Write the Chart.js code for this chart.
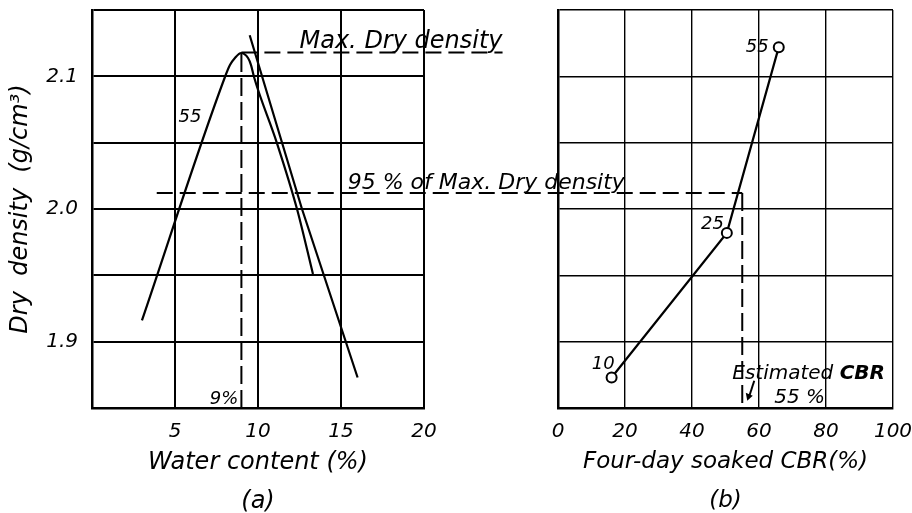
<!DOCTYPE html>
<html>
<head>
<meta charset="utf-8">
<script src="https://cdn.jsdelivr.net/npm/chart.js@4/dist/chart.umd.min.js"></script>
<style>
  html, body { margin: 0; padding: 0; background: #fff; }
  #wrap { position: relative; width: 912px; height: 513px; }
  #wrap canvas { position: absolute; left: 0; top: 0; }
</style>
</head>
<body>
<div id="wrap">
  <canvas id="chartA" width="912" height="513"></canvas>
  <canvas id="chartB" width="912" height="513"></canvas>
</div>
<script>
// (a) compaction curve, 55 blows : water content (%) vs dry density
const waterA = [3.01, 8.01, 8.31, 8.61, 8.98, 9.40, 9.58, 9.76, 11.14, 12.35, 13.31];
const densA  = [1.916, 2.0995, 2.1085, 2.1138, 2.1176, 2.1138, 2.1085, 2.0995, 2.0497, 2.0, 1.951];
// second line on the wet side
const waterA2 = [9.5, 12.65, 16.0];
const densA2  = [2.131, 2.0, 1.873];

// (b) four-day soaked CBR vs dry density, label = number of blows
const cbrB   = [16, 50.4, 65.9];
const densB  = [1.873, 1.982, 2.122];
const blowsB = ['10', '25', '55'];

// axes
const xTicksA = [5, 10, 15, 20];
const xTicksB = [0, 20, 40, 60, 80, 100];
const yGrid   = [1.85, 1.9, 1.95, 2.0, 2.05, 2.1, 2.15];
const yLabels = ['1.9', '2.0', '2.1'];

// reference values
const maxDry = 2.118;    // max dry density
const optWater = 9;      // optimum water content %
const dry95 = 2.012;     // 95 % of max dry density
const estCBR = 55;       // estimated CBR %

const FONT = '"DejaVu Sans", sans-serif';

function toXY(xs, ys) {
    return xs.map((x, i) => ({x: x, y: ys[i]}));
}

function yTickLabel(v) {
    const hit = yLabels.find(l => Math.abs(parseFloat(l) - v) < 1e-6);
    return hit || '';
}

function txt(ctx, s, x, y, align, size, base, weight) {
    ctx.save();
    ctx.font = 'italic ' + (weight || 'normal') + ' ' + size + 'px ' + FONT;
    ctx.fillStyle = '#000';
    ctx.textAlign = align || 'left';
    ctx.textBaseline = base || 'middle';
    ctx.fillText(s, x, y);
    const w = ctx.measureText(s).width;
    ctx.restore();
    return w;
}

function dashed(ctx, x1, y1, x2, y2, dash) {
    ctx.save();
    ctx.strokeStyle = '#000';
    ctx.lineWidth = 2;
    ctx.setLineDash(dash || [16, 7]);
    ctx.beginPath();
    ctx.moveTo(x1, y1);
    ctx.lineTo(x2, y2);
    ctx.stroke();
    ctx.restore();
}

// no extra label padding, the boxes are set by hand
function fixX(s) { s.height = 105; s.paddingLeft = 0; s.paddingRight = 0; }

const tickFont = {family: FONT, size: 20, style: 'italic'};

let chartA = null;

// label "55" on the compaction curve and the 9% note
const curveLabel = {
    id: 'curveLabel',
    afterDatasetsDraw(chart) {
        const ctx = chart.ctx, sx = chart.scales.x, sy = chart.scales.y;
        txt(ctx, '55', sx.getPixelForValue(5.9), sy.getPixelForValue(2.069), 'center', 18);
        txt(ctx, '9%', sx.getPixelForValue(optWater) - 3, sy.getPixelForValue(1.853), 'right', 18, 'alphabetic');
    }
};

chartA = new Chart(document.getElementById('chartA'), {
    type: 'scatter',
    data: {
        datasets: [{
            data: toXY(waterA, densA),
            showLine: true,
            borderColor: '#000',
            borderWidth: 2.2,
            pointRadius: 0,
            cubicInterpolationMode: 'monotone'
        }, {
            data: toXY(waterA2, densA2),
            showLine: true,
            borderColor: '#000',
            borderWidth: 2.2,
            pointRadius: 0
        }]
    },
    options: {
        responsive: false,
        animation: false,
        events: [],
        layout: {padding: {left: 0, top: 10, right: 488, bottom: 0}},
        plugins: {legend: {display: false}, tooltip: {enabled: false}},
        scales: {
            x: {
                type: 'linear', min: 0, max: 20,
                afterBuildTicks: s => { s.ticks = xTicksA.map(v => ({value: v})); },
                afterFit: fixX,
                grid: {color: '#000', lineWidth: 2, drawTicks: false},
                border: {color: '#000', width: 2.5},
                ticks: {color: '#000', font: tickFont, padding: 12, maxRotation: 0},
                title: {
                    display: true, text: ['Water content (%)', '(a)'], color: '#000',
                    font: {family: FONT, size: 24, style: 'italic', lineHeight: '39px'},
                    padding: {top: 0, bottom: -8}
                }
            },
            y: {
                type: 'linear', min: 1.85, max: 2.15,
                afterBuildTicks: s => { s.ticks = yGrid.map(v => ({value: v})); },
                afterFit: s => { s.width = 92; s.paddingTop = 0; s.paddingBottom = 0; },
                grid: {color: '#000', lineWidth: 2, drawTicks: false},
                border: {color: '#000', width: 2.5},
                ticks: {color: '#000', font: tickFont, padding: 14, callback: v => yTickLabel(v)},
                title: {
                    display: true, text: 'Dry  density  (g/cm³)', color: '#000',
                    font: {family: FONT, size: 24, style: 'italic'},
                    padding: {top: 6, bottom: 0}
                }
            }
        }
    },
    plugins: [curveLabel]
});

// dashed reference lines crossing both panels + text notes
const notes = {
    id: 'notes',
    afterDatasetsDraw(chart) {
        const ctx = chart.ctx;
        const ax = chartA.scales.x, ay = chartA.scales.y;
        const bx = chart.scales.x, by = chart.scales.y;

        // max dry density
        const yMax = ay.getPixelForValue(maxDry);
        const xOpt = ax.getPixelForValue(optWater);
        dashed(ctx, xOpt, ay.getPixelForValue(1.85), xOpt, yMax, [18, 6]);
        const t1x = ax.getPixelForValue(12.5);
        const w1 = txt(ctx, 'Max. Dry density', t1x, yMax - 4, 'left', 24, 'alphabetic');
        dashed(ctx, xOpt, yMax, t1x + w1, yMax);

        // 95 % of max dry density
        const y95 = ay.getPixelForValue(dry95);
        const xCbr = bx.getPixelForValue(estCBR);
        dashed(ctx, ax.getPixelForValue(3.9), y95, xCbr, y95);
        txt(ctx, '95 % of Max. Dry density', ax.getPixelForValue(15.4), y95 - 4, 'left', 22, 'alphabetic');
        dashed(ctx, xCbr, y95, xCbr, by.getPixelForValue(1.85), [18, 6]);

        // estimated CBR note
        const ey = by.getPixelForValue(1.876);
        const w2 = txt(ctx, 'Estimated ', xCbr - 10, ey, 'left', 20);
        txt(ctx, 'CBR', xCbr - 10 + w2, ey, 'left', 20, 'middle', 'bold');
        txt(ctx, '55 %', xCbr + 32, by.getPixelForValue(1.858), 'left', 20);
        // small arrow pointing at the dashed line
        const a1x = xCbr + 12, a1y = by.getPixelForValue(1.8705);
        const a2x = xCbr + 5, a2y = by.getPixelForValue(1.8555);
        ctx.save();
        ctx.strokeStyle = '#000';
        ctx.fillStyle = '#000';
        ctx.lineWidth = 2;
        ctx.beginPath(); ctx.moveTo(a1x, a1y); ctx.lineTo(a2x + 1.5, a2y - 3); ctx.stroke();
        ctx.beginPath(); ctx.moveTo(a2x, a2y); ctx.lineTo(a2x - 1.5, a2y - 8); ctx.lineTo(a2x + 5.5, a2y - 5); ctx.closePath(); ctx.fill();
        ctx.restore();

        // blow labels next to points
        const offs = [[3, -13], [-3, -9], [-10, 0]];
        const meta = chart.getDatasetMeta(0);
        meta.data.forEach((p, i) => {
            txt(ctx, blowsB[i], p.x + offs[i][0], p.y + offs[i][1], 'right', 18);
        });
    }
};

new Chart(document.getElementById('chartB'), {
    type: 'scatter',
    data: {
        datasets: [{
            data: toXY(cbrB, densB),
            showLine: true,
            borderColor: '#000',
            borderWidth: 2.2,
            pointRadius: 5,
            pointBackgroundColor: '#fff',
            pointBorderColor: '#000',
            pointBorderWidth: 2
        }]
    },
    options: {
        responsive: false,
        animation: false,
        events: [],
        layout: {padding: {left: 558, top: 10, right: 19, bottom: 0}},
        plugins: {legend: {display: false}, tooltip: {enabled: false}},
        scales: {
            x: {
                type: 'linear', min: 0, max: 100,
                afterBuildTicks: s => { s.ticks = xTicksB.map(v => ({value: v})); },
                afterFit: fixX,
                grid: {color: '#000', lineWidth: 1.4, drawTicks: false},
                border: {color: '#000', width: 2.5},
                ticks: {color: '#000', font: tickFont, padding: 12, maxRotation: 0},
                title: {
                    display: true, text: ['Four-day soaked CBR(%)', '(b)'], color: '#000',
                    font: {family: FONT, size: 23, style: 'italic', lineHeight: '39px'},
                    padding: {top: 0, bottom: -8}
                }
            },
            y: {
                type: 'linear', min: 1.85, max: 2.15,
                afterBuildTicks: s => { s.ticks = yGrid.map(v => ({value: v})); },
                afterFit: s => { s.width = 0; s.paddingTop = 0; s.paddingBottom = 0; },
                grid: {color: '#000', lineWidth: 1.4, drawTicks: false},
                border: {color: '#000', width: 2.5},
                ticks: {display: false}
            }
        }
    },
    plugins: [notes]
});
</script>
</body>
</html>
